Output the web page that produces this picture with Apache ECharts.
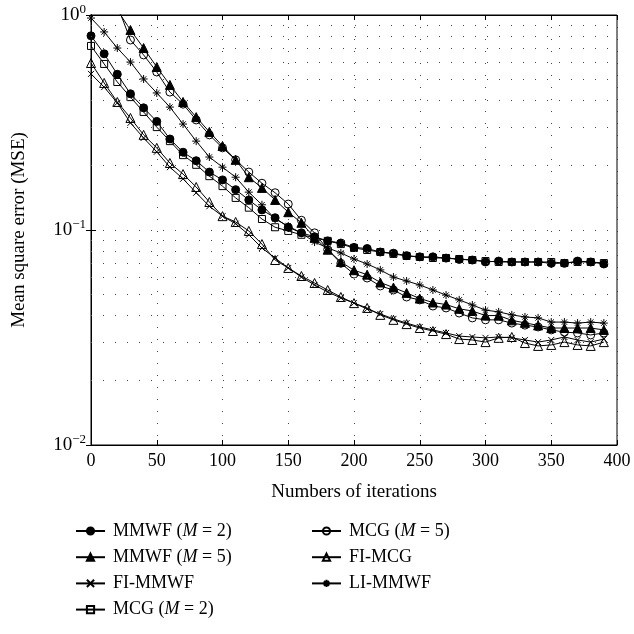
<!DOCTYPE html>
<html>
<head>
<meta charset="utf-8">
<script src="https://cdn.jsdelivr.net/npm/echarts@6/dist/echarts.min.js"></script>
<style>html,body{margin:0;padding:0;background:#fff;}#c{width:634px;height:634px;}</style>
</head>
<body>
<div id="c"></div>
<script>
const iterations = [0,10,20,30,40,50,60,70,80,90,100,110,120,130,140,150,160,170,180,190,200,210,220,230,240,250,260,270,280,290,300,310,320,330,340,350,360,370,380,390];
const xTicks = [0,50,100,150,200,250,300,350,400];
const yMinorGrid = [0.02,0.03,0.04,0.05,0.06,0.07,0.08,0.09,0.2,0.3,0.4,0.5,0.6,0.7,0.8,0.9];

const mmwfM2 = [0.80,0.66,0.53,0.43,0.37,0.32,0.265,0.23,0.21,0.186,0.171,0.154,0.138,0.124,0.114,0.103,0.097,0.093,0.089,0.087,0.083,0.082,0.079,0.078,0.076,0.075,0.075,0.074,0.073,0.0725,0.071,0.0717,0.071,0.071,0.071,0.070,0.070,0.0717,0.071,0.0695];
const mmwfM5 = [null,null,1.055,0.852,0.702,0.573,0.473,0.394,0.335,0.286,0.246,0.212,0.176,0.157,0.138,0.121,0.108,0.092,0.081,0.071,0.065,0.062,0.057,0.054,0.051,0.048,0.046,0.045,0.043,0.042,0.040,0.040,0.038,0.037,0.036,0.035,0.035,0.035,0.035,0.0343];
const fiMmwf = [0.532,0.462,0.390,0.315,0.268,0.231,0.196,0.173,0.149,0.129,0.116,0.107,0.095,0.0825,0.074,0.0666,0.0604,0.0555,0.0515,0.0483,0.0457,0.0429,0.0407,0.0386,0.0369,0.0354,0.0343,0.0332,0.0321,0.0318,0.0315,0.0318,0.0315,0.0308,0.0301,0.0308,0.0318,0.0308,0.0301,0.0311];
const mcgM2 = [0.718,0.592,0.488,0.415,0.354,0.301,0.259,0.223,0.201,0.178,0.160,0.141,0.127,0.1125,0.103,0.099,0.095,0.092,0.089,0.086,0.0825,0.0807,0.079,0.0774,0.0757,0.0749,0.0741,0.0741,0.0733,0.0725,0.0717,0.071,0.071,0.071,0.071,0.071,0.0702,0.071,0.071,0.0702];
const mcgM5 = [null,null,1.11,0.765,0.652,0.543,0.438,0.385,0.325,0.277,0.241,0.212,0.186,0.165,0.149,0.132,0.111,0.097,0.081,0.070,0.0624,0.0598,0.0549,0.0526,0.0488,0.0473,0.0443,0.0434,0.0411,0.039,0.0382,0.0382,0.0369,0.0361,0.0354,0.0343,0.0335,0.0332,0.0325,0.0332];
const fiMcg = [0.598,0.483,0.394,0.332,0.277,0.241,0.205,0.182,0.1585,0.135,0.116,0.109,0.099,0.086,0.0725,0.0666,0.0611,0.0567,0.0526,0.0488,0.0457,0.0434,0.0403,0.0382,0.0365,0.035,0.0339,0.0328,0.0311,0.0308,0.0301,0.0315,0.0318,0.0298,0.0289,0.0292,0.0301,0.0292,0.0289,0.0301];
const liMmwf = [0.968,0.834,0.702,0.604,0.504,0.434,0.373,0.311,0.259,0.2185,0.196,0.176,0.150,0.131,0.1125,0.1044,0.0968,0.0879,0.0825,0.0782,0.0733,0.0695,0.0652,0.0604,0.0579,0.0555,0.0526,0.0498,0.0473,0.0448,0.0424,0.0416,0.0403,0.0394,0.039,0.0373,0.0373,0.0369,0.0373,0.0369];

const FONT = 'Liberation Serif';
const BLACK = '#000';
const CROSS = 'path://M0,0L10,10M0,10L10,0';
const STAR = 'path://M5,0L5,10M0,5L10,5M1.6,1.6L8.4,8.4M1.6,8.4L8.4,1.6';

function pts(arr){ return iterations.map((x,i)=>[x, arr[i]]); }

function mk(name, data, symbol, size, filled){
  return {
    name: name, type: 'line', data: pts(data),
    symbol: symbol, symbolSize: size, showAllSymbol: true,
    connectNulls: false, clip: true,
    lineStyle: {color: BLACK, width: 1},
    itemStyle: {color: filled ? BLACK : 'rgba(255,255,255,0)', borderColor: BLACK, borderWidth: 1},
    emphasis: {disabled: true},
    animation: false
  };
}

const dotted = {color: '#444', width: 1, type: [1, 11]};

const chart = echarts.init(document.getElementById('c'), null, {renderer: 'canvas'});
const supRich = {
  b: {fontFamily: FONT, fontSize: 19, color: BLACK},
  s: {fontFamily: FONT, fontSize: 13, color: BLACK, verticalAlign: 'bottom', padding: [0,0,11,0]}
};
const legendRich = {i: {fontFamily: FONT, fontSize: 18, fontStyle: 'italic', color: BLACK}};
function legendFmt(n){ return n.replace(/\(M = (\d)\)/, '({i|M} = $1)'); }

const legendBase = {
  orient: 'vertical', top: 517, height: 117, itemWidth: 29, itemHeight: 9, itemGap: 8.2,
  formatter: legendFmt,
  textStyle: {fontFamily: FONT, fontSize: 18, color: BLACK, rich: legendRich, padding: [0,0,0,3]},
  selectedMode: false
};

chart.setOption({
  animation: false,
  backgroundColor: '#fff',
  grid: {left: 91, right: 17, top: 15, bottom: 189, show: true, borderColor: BLACK, borderWidth: 1, containLabel: false},
  xAxis: [{
    type: 'value', min: 0, max: 400, interval: 50, position: 'bottom',
    name: 'Numbers of iterations', nameLocation: 'middle', nameGap: 38,
    nameTextStyle: {fontFamily: FONT, fontSize: 19, color: BLACK},
    axisLine: {lineStyle: {color: BLACK, width: 1}},
    axisTick: {inside: true, length: 5, lineStyle: {color: BLACK}},
    axisLabel: {fontFamily: FONT, fontSize: 18, color: BLACK, margin: 7},
    splitLine: {show: true, lineStyle: dotted}
  },{
    type: 'value', min: 0, max: 400, interval: 50, position: 'top',
    axisLine: {lineStyle: {color: BLACK, width: 1}},
    axisTick: {inside: true, length: 5, lineStyle: {color: BLACK}},
    axisLabel: {show: false}, splitLine: {show: false}
  }],
  yAxis: [{
    type: 'log', logBase: 10, min: 0.01, max: 1, position: 'left',
    name: 'Mean square error (MSE)', nameLocation: 'middle', nameGap: 62,
    nameTextStyle: {fontFamily: FONT, fontSize: 19, color: BLACK},
    axisLine: {show: true, lineStyle: {color: BLACK, width: 1}},
    axisTick: {inside: true, length: 5, lineStyle: {color: BLACK}},
    axisLabel: {
      margin: 5,
      formatter: function(v){
        const e = Math.round(Math.log10(v));
        return '{b|10}{s|' + (e < 0 ? '\u2212' + (-e) : e) + '}';
      },
      rich: supRich
    },
    splitLine: {show: true, lineStyle: dotted}
  },{
    type: 'log', logBase: 10, min: 0.01, max: 1, position: 'right',
    axisLine: {show: true, lineStyle: {color: BLACK, width: 1}},
    axisTick: {inside: true, length: 5, lineStyle: {color: BLACK}},
    axisLabel: {show: false}, splitLine: {show: false}
  }],
  legend: [
    Object.assign({}, legendBase, {left: 70, data: ['MMWF (M = 2)', 'MMWF (M = 5)', 'FI-MMWF', 'MCG (M = 2)']}),
    Object.assign({}, legendBase, {left: 306, data: ['MCG (M = 5)', 'FI-MCG', 'LI-MMWF']})
  ],
  series: [
    {
      name: 'minor-grid', type: 'line', data: [], silent: true,
      markLine: {
        silent: true, symbol: ['none','none'], label: {show: false}, animation: false,
        lineStyle: dotted,
        data: yMinorGrid.map(v => ({yAxis: v}))
      }
    },
    mk('MMWF (M = 2)', mmwfM2, 'circle', 8, true),
    mk('MMWF (M = 5)', mmwfM5, 'triangle', 9, true),
    mk('FI-MMWF', fiMmwf, CROSS, 6, false),
    mk('MCG (M = 2)', mcgM2, 'rect', 7, false),
    mk('MCG (M = 5)', mcgM5, 'circle', 8, false),
    mk('FI-MCG', fiMcg, 'triangle', 9, false),
    mk('LI-MMWF', liMmwf, STAR, 8, false)
  ]
});
</script>
</body>
</html>
